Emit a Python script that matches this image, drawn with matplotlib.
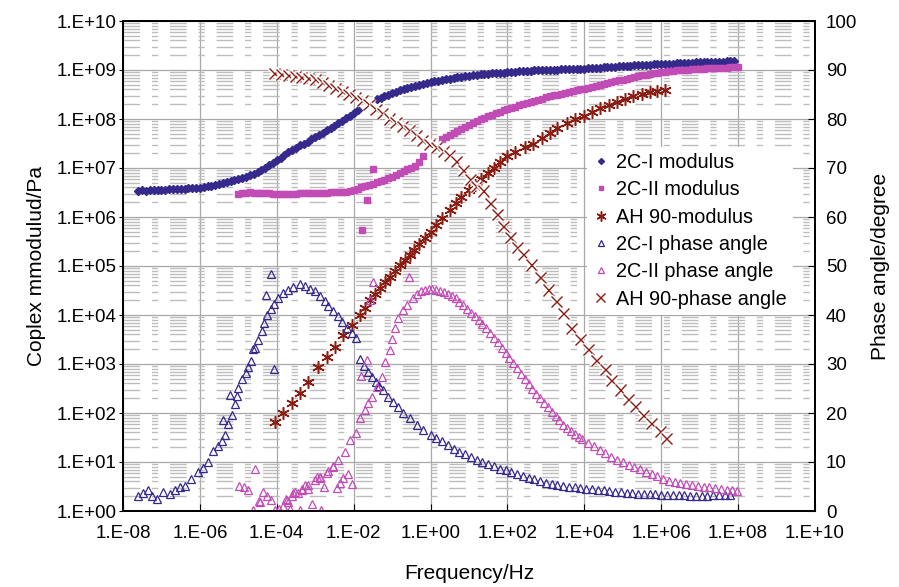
import numpy as np
import matplotlib
matplotlib.use("Agg")
import matplotlib.pyplot as plt
import matplotlib.patheffects as pe
from matplotlib.ticker import FixedLocator, FuncFormatter, LogLocator, NullFormatter

plt.rcParams["font.family"] = ["Liberation Sans", "DejaVu Sans"]

# ---- data (frequency given as log10 Hz) ------------------------------------ #
# 2C-I modulus, log10(Pa)
c1_mod_logf = [-7.6, -7.5, -7.4, -7.3, -7.2, -7.1, -7.0, -6.9, -6.8, -6.7, -6.6, -6.5,
               -6.4, -6.3, -6.2, -6.1, -6.0, -5.9, -5.8, -5.7, -5.6, -5.5, -5.4, -5.3,
               -5.2, -5.1, -5.0, -4.9, -4.8, -4.7, -4.6, -4.5, -4.4, -4.3, -4.2, -4.1,
               -4.0, -3.9, -3.8, -3.7, -3.6, -3.5, -3.4, -3.3, -3.2, -3.1, -3.0, -2.9,
               -2.8, -2.7, -2.6, -2.5, -2.4, -2.3, -2.2, -2.1, -2.0, -1.9,
               -1.4, -1.3, -1.2, -1.1, -1.0, -0.9, -0.8, -0.7, -0.6, -0.5, -0.4, -0.3,
               -0.2, -0.1, 0.0, 0.1, 0.2, 0.3, 0.4, 0.5, 0.6, 0.7, 0.8, 0.9, 1.0, 1.1,
               1.2, 1.3, 1.4, 1.5, 1.6, 1.7, 1.8, 1.9, 2.0, 2.1, 2.2, 2.3, 2.4, 2.5,
               2.6, 2.7, 2.8, 2.9, 3.0, 3.1, 3.2, 3.3, 3.4, 3.5, 3.6, 3.7, 3.8, 3.9,
               4.0, 4.1, 4.2, 4.3, 4.4, 4.5, 4.6, 4.7, 4.8, 4.9, 5.0, 5.1, 5.2, 5.3,
               5.4, 5.5, 5.6, 5.7, 5.8, 5.9, 6.0, 6.1, 6.2, 6.3, 6.4, 6.5, 6.6, 6.7,
               6.8, 6.9, 7.0, 7.1, 7.2, 7.3, 7.4, 7.5, 7.6, 7.7, 7.8, 7.9]
c1_mod_logm = [6.54, 6.55, 6.54, 6.55, 6.55, 6.56, 6.56, 6.56, 6.57, 6.57, 6.58, 6.58,
               6.58, 6.59, 6.59, 6.60, 6.60, 6.61, 6.63, 6.64, 6.66, 6.68, 6.70, 6.71,
               6.73, 6.75, 6.77, 6.80, 6.82, 6.85, 6.88, 6.92, 6.96, 7.01, 7.06, 7.11,
               7.16, 7.21, 7.26, 7.32, 7.37, 7.41, 7.46, 7.50, 7.54, 7.59, 7.63, 7.68,
               7.72, 7.77, 7.81, 7.86, 7.91, 7.96, 8.02, 8.07, 8.13, 8.19,
               8.40, 8.43, 8.46, 8.50, 8.53, 8.56, 8.59, 8.61, 8.64, 8.66, 8.68, 8.70,
               8.72, 8.74, 8.75, 8.77, 8.78, 8.80, 8.81, 8.82, 8.83, 8.85, 8.86, 8.87,
               8.88, 8.89, 8.90, 8.91, 8.91, 8.92, 8.93, 8.93, 8.94, 8.94, 8.95, 8.96,
               8.96, 8.97, 8.97, 8.98, 8.98, 8.99, 8.99, 9.00, 9.00, 9.00, 9.01, 9.01,
               9.02, 9.02, 9.02, 9.03, 9.03, 9.03, 9.03, 9.04, 9.04, 9.05, 9.05, 9.06,
               9.06, 9.07, 9.07, 9.08, 9.08, 9.09, 9.09, 9.10, 9.10, 9.11, 9.11, 9.11,
               9.12, 9.12, 9.12, 9.13, 9.13, 9.13, 9.14, 9.14, 9.14, 9.15, 9.15, 9.16,
               9.16, 9.16, 9.16, 9.17, 9.17, 9.17, 9.17, 9.18, 9.18, 9.18]

# 2C-II modulus, log10(Pa)
c2_mod_logf = [-5.0, -4.9, -4.8, -4.7, -4.6, -4.5, -4.4, -4.3, -4.2, -4.1, -4.0, -3.9,
               -3.8, -3.7, -3.6, -3.5, -3.4, -3.3, -3.2, -3.1, -3.0, -2.9, -2.8, -2.7,
               -2.6, -2.5, -2.4, -2.3, -2.2, -2.1, -2.0, -1.9, -1.8, -1.7, -1.6, -1.5,
               -1.4, -1.3, -1.2, -1.1, -1.0, -0.9, -0.8, -0.7, -0.6, -0.5, -0.4, -0.3,
               -0.2,
               0.3, 0.4, 0.5, 0.6, 0.7, 0.8, 0.9, 1.0, 1.1, 1.2, 1.3, 1.4, 1.5, 1.6,
               1.7, 1.8, 1.9, 2.0, 2.1, 2.2, 2.3, 2.4, 2.5, 2.6, 2.7, 2.8, 2.9, 3.0,
               3.1, 3.2, 3.3, 3.4, 3.5, 3.6, 3.7, 3.8, 3.9, 4.0, 4.1, 4.2, 4.3, 4.4,
               4.5, 4.6, 4.7, 4.8, 4.9, 5.0, 5.1, 5.2, 5.3, 5.4, 5.5, 5.6, 5.7, 5.8,
               5.9, 6.0, 6.1, 6.2, 6.3, 6.4, 6.5, 6.6, 6.7, 6.8, 6.9, 7.0, 7.1, 7.2,
               7.3, 7.4, 7.5, 7.6, 7.7, 7.8, 7.9, 8.0,
               -1.51, -1.66, -1.79]
c2_mod_logm = [6.47, 6.48, 6.50, 6.51, 6.50, 6.50, 6.49, 6.49, 6.48, 6.47, 6.47, 6.46,
               6.46, 6.46, 6.47, 6.47, 6.48, 6.48, 6.49, 6.49, 6.50, 6.50, 6.50, 6.50,
               6.51, 6.51, 6.51, 6.51, 6.52, 6.54, 6.56, 6.58, 6.61, 6.63, 6.66, 6.68,
               6.71, 6.73, 6.76, 6.79, 6.82, 6.86, 6.89, 6.93, 6.97, 7.01, 7.05, 7.13,
               7.25,
               7.60, 7.64, 7.68, 7.72, 7.76, 7.80, 7.84, 7.88, 7.92, 7.96, 7.99, 8.02,
               8.06, 8.09, 8.12, 8.15, 8.18, 8.20, 8.23, 8.25, 8.28, 8.30, 8.32, 8.35,
               8.37, 8.39, 8.41, 8.44, 8.46, 8.48, 8.50, 8.52, 8.54, 8.56, 8.58, 8.59,
               8.61, 8.62, 8.64, 8.66, 8.68, 8.70, 8.72, 8.73, 8.75, 8.77, 8.79, 8.80,
               8.82, 8.84, 8.85, 8.87, 8.89, 8.90, 8.92, 8.93, 8.94, 8.95, 8.96, 8.97,
               8.98, 8.99, 9.00, 9.00, 9.01, 9.02, 9.02, 9.03, 9.03, 9.04, 9.04, 9.04,
               9.05, 9.05, 9.05, 9.06, 9.06, 9.06,
               6.98, 6.35, 5.74]

# AH 90 modulus, log10(Pa)
ah_mod_logf = [-4.05, -3.83, -3.61, -3.40, -3.18, -2.92, -2.70, -2.49, -2.27, -2.05,
               -1.84, -1.70, -1.58, -1.45, -1.32, -1.19, -1.06, -0.93, -0.80, -0.67,
               -0.54, -0.42, -0.30, -0.15, 0.0, 0.15, 0.3, 0.5, 0.65, 0.8, 1.0, 1.15,
               1.3, 1.5, 1.65, 1.8, 2.0, 2.2, 2.45, 2.67, 2.9, 3.1, 3.3, 3.54, 3.75,
               4.0, 4.2, 4.41, 4.65, 4.85, 5.05, 5.27, 5.5, 5.7, 5.9, 6.1]
ah_mod_logm = [1.82, 1.99, 2.20, 2.40, 2.64, 2.94, 3.15, 3.35, 3.59, 3.80,
               4.00, 4.15, 4.31, 4.43, 4.55, 4.67, 4.78, 4.90, 5.02, 5.12,
               5.22, 5.33, 5.45, 5.57, 5.70, 5.84, 5.98, 6.15, 6.28, 6.40, 6.55, 6.66,
               6.77, 6.90, 7.00, 7.12, 7.24, 7.33, 7.43, 7.50, 7.62, 7.72, 7.82, 7.91,
               7.99, 8.07, 8.15, 8.22, 8.29, 8.35, 8.41, 8.46, 8.51, 8.55, 8.58, 8.60]

# 2C-I phase angle, degree
c1_ph_logf = [-7.60, -7.47, -7.34, -7.25, -7.12, -6.95, -6.78, -6.65, -6.52, -6.39,
              -6.24, -6.04, -5.91, -5.78, -5.65, -5.52, -5.43, -5.35, -5.26, -5.41,
              -5.17, -5.09, -5.22, -5.04, -5.00, -4.91, -4.80, -4.74, -4.68, -4.61,
              -4.57, -4.48, -4.39, -4.33, -4.26, -4.16, -4.07, -3.96, -3.83, -3.70,
              -3.57, -3.39, -3.26, -3.13, -3.00, -2.87, -2.74, -2.66, -2.53, -2.40,
              -2.31, -2.18, -2.05, -1.94, -4.16, -4.29, -4.07,
              -1.83, -1.72, -1.62, -1.52, -1.42, -1.33, -1.23, -1.10, -0.97, -0.84,
              -0.71, -0.54, -0.36, -0.19,
              0.0, 0.15, 0.3, 0.45, 0.6, 0.75, 0.9, 1.05, 1.2, 1.35, 1.5, 1.65, 1.8,
              1.95, 2.1, 2.25, 2.4, 2.55, 2.7, 2.85, 3.0, 3.15, 3.3, 3.45, 3.6, 3.75,
              3.9, 4.05, 4.2, 4.35, 4.5, 4.65, 4.8, 4.95, 5.1, 5.25, 5.4, 5.55, 5.7,
              5.85, 6.0, 6.15, 6.3, 6.45, 6.6, 6.75, 6.9, 7.05, 7.2, 7.35, 7.5, 7.65, 7.8]
c1_ph_deg = [3.1, 3.7, 4.3, 3.1, 2.4, 3.9, 3.4, 4.3, 4.9, 5.1,
             6.5, 8.0, 8.8, 10.1, 12.2, 13.3, 14.3, 15.6, 17.7, 18.6,
             19.5, 21.8, 23.6, 23.5, 25.2, 27.0, 28.2, 29.3, 30.6, 33.0,
             33.3, 35.0, 36.7, 38.3, 40.0, 41.3, 42.3, 43.5, 44.4, 45.2,
             45.8, 46.3, 45.9, 45.4, 44.9, 43.9, 42.9, 41.8, 40.8, 39.8,
             38.6, 37.4, 36.4, 35.4, 48.4, 44.0, 29.0,
             31.0, 29.6, 28.4, 27.3, 26.4, 25.5, 24.7, 23.3, 22.3, 21.3,
             19.9, 18.9, 17.6, 16.5,
             15.6, 15.0, 14.3, 13.4, 12.7, 12.1, 11.6, 11.0, 10.4, 9.9, 9.5, 9.1, 8.6,
             8.3, 7.9, 7.5, 7.1, 6.8, 6.5, 6.2, 5.8, 5.5, 5.3, 5.1, 4.9, 4.8,
             4.6, 4.5, 4.4, 4.3, 4.2, 4.1, 3.9, 3.8, 3.7, 3.6, 3.5, 3.5, 3.4,
             3.4, 3.3, 3.3, 3.2, 3.2, 3.2, 3.1, 3.1, 3.1, 3.1, 3.2, 3.2, 3.2, 3.3]

# 2C-II phase angle, degree
c2_ph_logf = [-4.97, -4.85, -4.76, -4.63, -4.57, -4.45, -4.37, -4.26, -4.16, -4.44,
              -4.05, -3.93, -3.83, -3.77, -3.70, -3.61, -3.52, -3.44, -3.35, -3.26,
              -3.18, -3.09, -2.96, -2.87, -2.77, -2.66, -2.53, -2.44, -2.35, -2.27,
              -2.14, -2.05, -2.86, -3.40, -3.65,
              -3.74, -3.57, -3.35, -3.18, -3.01, -2.88, -2.70, -2.53, -2.40, -2.23,
              -2.10, -1.94, -1.84, -1.71, -1.62, -1.53, -1.40, -1.27, -1.19, -1.06,
              -1.01, -0.93, -0.84, -0.71, -0.62,
              -1.81, -1.65, -1.49, -0.56, -1.58,
              -0.45, -0.35, -0.25, -0.15, -0.05, 0.05, 0.15, 0.25, 0.35, 0.45, 0.55,
              0.65, 0.75, 0.85, 0.95, 1.05, 1.15, 1.25, 1.35, 1.45, 1.55, 1.65, 1.75,
              1.85, 1.95, 2.05, 2.15, 2.25, 2.35, 2.45, 2.55, 2.65, 2.75, 2.85, 2.95,
              3.05, 3.15, 3.25, 3.35, 3.45, 3.55, 3.65, 3.75, 3.85, 3.95, 4.1, 4.25,
              4.4, 4.55, 4.7, 4.85, 5.0, 5.15, 5.3, 5.45, 5.6, 5.75, 5.9, 6.05, 6.2,
              6.35, 6.5, 6.65, 6.8, 6.95, 7.1, 7.25, 7.4, 7.55, 7.7, 7.85, 7.96]
c2_ph_deg = [5.2, 4.8, 4.3, 0.2, 8.6, 2.0, 3.9, 3.0, 2.2, 1.9,
             0.3, 0.5, 1.0, 2.5, 1.8, 3.1, 3.9, 3.6, 4.5, 5.4,
             4.5, 1.4, 7.0, 6.8, 5.0, 8.2, 9.2, 4.6, 5.8, 6.8,
             7.5, 5.6, 0.2, 0.3, 0.4,
             2.2, 3.6, 4.3, 5.3, 6.3, 7.0, 7.7, 9.0, 10.4, 12.1,
             14.5, 16.0, 18.9, 20.6, 22.0, 23.3, 25.4, 27.4, 30.5, 32.9,
             35.2, 37.3, 39.3, 41.0, 42.0,
             27.6, 30.8, 46.7, 47.7, 43.1,
             43.4, 44.2, 44.8, 45.1, 45.3, 45.3, 45.2, 45.0, 44.7, 44.3, 43.9,
             43.4, 42.7, 42.0, 41.3, 40.5, 39.7, 38.9, 38.1, 37.3, 36.4, 35.4, 34.4,
             33.3, 32.3, 31.2, 30.2, 29.1, 28.0, 27.0, 25.9, 24.8, 23.9, 23.0, 22.1,
             21.2, 20.3, 19.4, 18.5, 17.6, 16.9, 16.3, 15.7, 15.2, 14.7, 13.9, 13.2,
             12.5, 11.8, 11.1, 10.4, 9.9, 9.4, 8.9, 8.5, 8.0, 7.6, 7.1, 6.6, 6.2,
             5.9, 5.7, 5.5, 5.3, 5.1, 4.9, 4.8, 4.6, 4.5, 4.3, 4.2, 4.1]

# AH 90 phase angle, degree
ah_ph_logf = [-4.05, -3.87, -3.70, -3.52, -3.35, -3.17, -3.00, -2.82, -2.65, -2.47,
              -2.30, -2.12, -1.95, -1.77, -1.60, -1.42, -1.25, -1.07, -0.90, -0.72,
              -0.55, -0.37, -0.20, -0.02, 0.15, 0.33, 0.50, 0.68, 0.85, 1.03, 1.20,
              1.38, 1.55, 1.73, 1.90, 2.08, 2.25, 2.41, 2.63, 2.85, 3.06, 3.28, 3.45,
              3.67, 3.89, 4.10, 4.32, 4.54, 4.71, 4.93, 5.14, 5.32, 5.53, 5.75, 5.97,
              6.14]
ah_ph_deg = [89.3, 89.1, 88.9, 88.7, 88.5, 88.2, 88.0, 87.4, 86.8, 86.2,
             85.7, 85.0, 84.4, 83.7, 82.9, 81.9, 81.1, 80.0, 79.3, 78.4,
             77.6, 76.6, 75.6, 74.8, 74.2, 73.4, 72.6, 71.3, 69.5, 67.6, 66.3,
             65.3, 62.8, 60.5, 58.0, 55.8, 53.8, 52.3, 50.2, 47.6, 45.1, 42.7, 40.3,
             37.3, 35.0, 33.0, 30.8, 28.9, 26.7, 24.7, 22.7, 21.3, 19.4, 17.9, 16.2,
             14.8]

BLUE = "#35298c"
MAGENTA = "#c24cb6"
DARKRED = "#8b1c12"
LABEL_FS = 15
TICK_FS = 13.5


def hz(logf):
    return 10.0 ** np.asarray(logf)


fig = plt.figure(figsize=(8.99, 5.87), dpi=100)
ax = fig.add_axes([123 / 899, 1 - 511 / 587, (815 - 123) / 899, (511 - 21) / 587])
ax2 = ax.twinx()

ax.plot(hz(c1_mod_logf), 10.0 ** np.asarray(c1_mod_logm), linestyle="none", marker="D",
        ms=3.8, color=BLUE, mec=BLUE, label="2C-I modulus")
ax.plot(hz(c2_mod_logf), 10.0 ** np.asarray(c2_mod_logm), linestyle="none", marker="s",
        ms=4.2, color=MAGENTA, mec=MAGENTA, label="2C-II modulus")
ax.plot(hz(ah_mod_logf), 10.0 ** np.asarray(ah_mod_logm), linestyle="none", marker=(6, 2, 0),
        ms=9, mew=1.1, color=DARKRED, label="AH 90-modulus")

ax2.plot(hz(c1_ph_logf), c1_ph_deg, linestyle="none", marker="^", ms=6, mew=0.9,
         mfc="none", mec=BLUE, label="2C-I phase angle")
ax2.plot(hz(c2_ph_logf), c2_ph_deg, linestyle="none", marker="^", ms=6, mew=0.9,
         mfc="none", mec=MAGENTA, label="2C-II phase angle")
# each cross drawn on its own with a white halo, so neighbours clip one another
halo = [pe.Stroke(linewidth=3.2, foreground="white"), pe.Normal()]
for i, (lf, deg) in enumerate(zip(ah_ph_logf, ah_ph_deg)):
    ax2.plot(hz([lf]), [deg], linestyle="none", marker="x", ms=8, mew=1.0, color=DARKRED,
             label="AH 90-phase angle" if i == 0 else None, path_effects=halo,
             zorder=3 + i * 0.001)

# axes, ticks, grid
ax.set_xscale("log")
ax.set_yscale("log")
ax.set_xlim(1e-8, 1e10)
ax.set_ylim(1, 1e10)
ax2.set_ylim(0, 100)

exp_fmt = FuncFormatter(lambda v, p: f"1.E{int(round(np.log10(v))):+03d}")
ax.xaxis.set_major_locator(FixedLocator([10.0 ** e for e in range(-8, 11, 2)]))
ax.xaxis.set_minor_locator(FixedLocator([]))
ax.xaxis.set_major_formatter(exp_fmt)
ax.yaxis.set_major_locator(FixedLocator([10.0 ** e for e in range(0, 11)]))
ax.yaxis.set_minor_locator(LogLocator(base=10, subs=np.arange(2, 10), numticks=100))
ax.yaxis.set_minor_formatter(NullFormatter())
ax.yaxis.set_major_formatter(exp_fmt)
ax2.set_yticks(range(0, 101, 10))

ax.grid(True, which="major", axis="both", color="#a8a8a8", linewidth=0.9)
ax.grid(True, which="minor", axis="y", color="#bdbdbd", linewidth=1.0,
        linestyle=(0, (12, 8.5, 4.5, 8.5)))
ax.set_axisbelow(True)

ax.tick_params(axis="x", which="major", direction="in", length=5, pad=10, labelsize=TICK_FS)
ax.tick_params(axis="y", which="major", direction="out", length=3, pad=1.5, labelsize=TICK_FS)
ax.tick_params(axis="y", which="minor", length=0)
ax2.tick_params(axis="y", direction="in", length=5, pad=8, labelsize=TICK_FS)

for a in (ax, ax2):
    for sp in a.spines.values():
        sp.set_linewidth(1.3)
        sp.set_color("black")

ax.set_xlabel("Frequency/Hz", fontsize=LABEL_FS, labelpad=16)
ax.set_ylabel("Coplex mmodulud/Pa", fontsize=LABEL_FS, labelpad=8)
ax2.set_ylabel("Phase angle/degree", fontsize=LABEL_FS, labelpad=10)

h1, l1 = ax.get_legend_handles_labels()
h2, l2 = ax2.get_legend_handles_labels()
leg = ax2.legend(h1 + h2, l1 + l2, loc="upper left",
                 bbox_to_anchor=(587 / 899, 1 - 147 / 587), bbox_transform=fig.transFigure,
                 borderaxespad=0, borderpad=0.3, fontsize=14.3, labelspacing=0.42,
                 handlelength=0.8, handletextpad=0.35, markerscale=0.8,
                 frameon=True, fancybox=False, framealpha=1.0)
leg.get_frame().set_edgecolor("none")
leg.get_frame().set_facecolor("white")
leg.set_zorder(10)

fig.savefig("out.png", dpi=100)
